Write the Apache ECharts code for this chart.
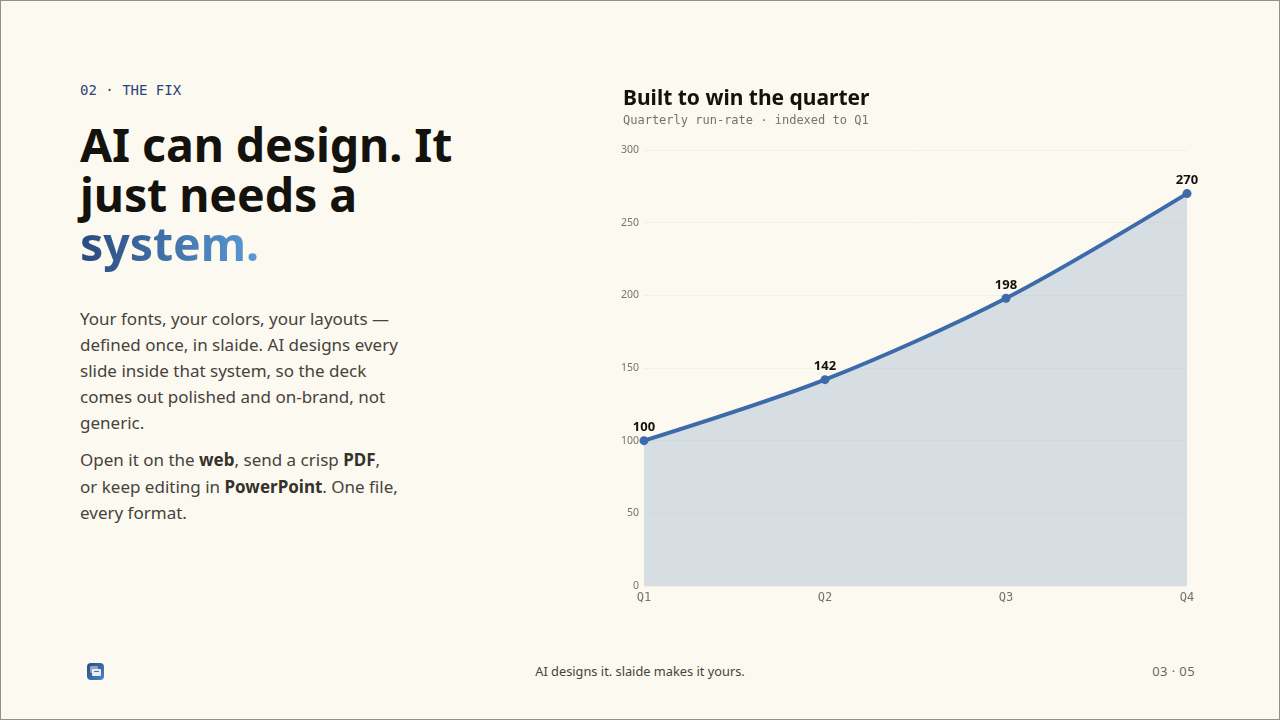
<!DOCTYPE html>
<html>
<head>
<meta charset="utf-8">
<title>AI can design</title>
<script src="https://cdn.jsdelivr.net/npm/echarts@6/dist/echarts.min.js"></script>
<style>
  html, body { margin: 0; padding: 0; }
  body { width: 1280px; height: 720px; background: #fcf9f1; position: relative; overflow: hidden; font-family: "Noto Sans", sans-serif; }
  .frame { position: absolute; left: 0; top: 0; width: 1278px; height: 718px; border: 1px solid #8f8f8b; }
  .abs { position: absolute; white-space: nowrap; }
  .eyebrow { left: 80px; top: 81px; font: 14px/18px "DejaVu Sans Mono", monospace; color: #2a4478; }
  h1 { margin: 0; left: 80px; top: 120px; font: 700 46.5px/49.5px "Noto Sans", sans-serif; color: #14120d; letter-spacing: -0.1px; }
  h1 span { background: linear-gradient(90deg, #2a4a7f 0%, #5b9bd5 100%); -webkit-background-clip: text; background-clip: text; color: transparent; }
  .copy { left: 80px; font-size: 17px; color: #46433b; }
  .copy b { color: #35322b; }
  .footer-mid { left: 440px; width: 400px; top: 662px; text-align: center; font-size: 12.8px; line-height: 18px; color: #46433b; }
  .footer-page { right: 85px; top: 662px; font-size: 13px; line-height: 18px; color: #6e6a60; letter-spacing: 0.4px; }
  .logo { left: 87px; top: 663px; width: 17px; height: 17px; border-radius: 4px; background: linear-gradient(135deg, #2a4a7f, #4f86c6); }
  .logo i { position: absolute; display: block; border-radius: 1px; }
  .logo .back { left: 3px; top: 3px; width: 8px; height: 7px; background: #8ea6c9; }
  .logo .front { left: 5px; top: 6px; width: 9px; height: 7px; background: #e9eff7; }
  .logo .bar { left: 7px; top: 8px; width: 5px; height: 1px; background: #4a6a9c; }
  #chart { position: absolute; left: 600px; top: 80px; width: 620px; height: 540px; }
</style>
</head>
<body>
<div class="frame"></div>
<div class="abs eyebrow">02 · THE FIX</div>
<h1 class="abs">AI can design. It<br>just needs a<br><span>system.</span></h1>
<div class="abs copy" style="top:306px;line-height:26px">Your fonts, your colors, your layouts —<br>defined once, in slaide. AI designs every<br>slide inside that system, so the deck<br>comes out polished and on-brand, not<br>generic.</div>
<div class="abs copy" style="top:447px;line-height:26.5px">Open it on the <b>web</b>, send a crisp <b>PDF</b>,<br>or keep editing in <b>PowerPoint</b>. One file,<br>every format.</div>
<div id="chart"></div>
<div class="abs logo"><i class="back"></i><i class="front"></i><i class="bar"></i></div>
<div class="abs footer-mid">AI designs it. slaide makes it yours.</div>
<div class="abs footer-page">03 · 05</div>
<script>
var quarters = ['Q1', 'Q2', 'Q3', 'Q4'];
var runRate = [100, 142, 198, 270];

var chart = echarts.init(document.getElementById('chart'));
chart.setOption({
  animation: false,
  title: {
    text: 'Built to win the quarter',
    subtext: 'Quarterly run-rate · indexed to Q1',
    left: 23,
    top: 9,
    itemGap: 5,
    textStyle: { fontFamily: 'Noto Sans', fontSize: 21, fontWeight: 700, color: '#14120d' },
    subtextStyle: { fontFamily: 'DejaVu Sans Mono', fontSize: 12, color: '#77736a' },
    padding: 0
  },
  grid: { left: 44, right: 33, top: 70, bottom: 34 },
  xAxis: {
    type: 'category',
    data: quarters,
    boundaryGap: false,
    axisLine: { show: false },
    axisTick: { show: false },
    axisLabel: { fontFamily: 'DejaVu Sans Mono', fontSize: 12, color: '#77736a', margin: 6 }
  },
  yAxis: {
    type: 'value',
    min: 0,
    max: 300,
    interval: 50,
    axisLine: { show: false },
    axisTick: { show: false },
    axisLabel: { fontFamily: 'Noto Sans', fontSize: 10.5, color: '#77736a', margin: 5 },
    splitLine: { lineStyle: { color: '#8a7f55', opacity: 0.07, width: 1 } }
  },
  series: [{
    type: 'line',
    data: runRate,
    smooth: 0.3,
    symbol: 'circle',
    symbolSize: 9,
    lineStyle: { color: '#3d6baa', width: 4 },
    itemStyle: { color: '#3d6baa' },
    areaStyle: { color: '#3d6baa', opacity: 0.19 },
    label: {
      show: true,
      position: 'top',
      distance: 2,
      fontFamily: 'Noto Sans',
      fontSize: 13,
      fontWeight: 700,
      color: '#14120d'
    }
  }]
});
</script>
</body>
</html>
